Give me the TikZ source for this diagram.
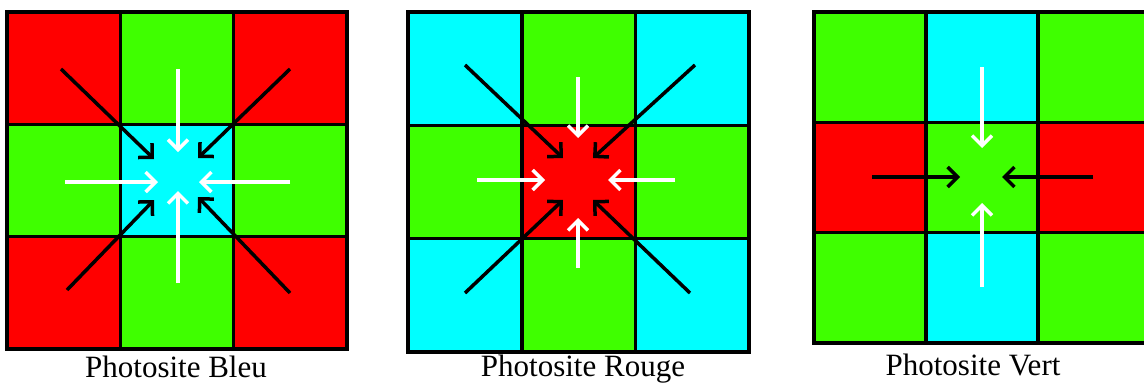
\documentclass[tikz,border=0pt]{standalone}
\usepackage{fontspec}
\setmainfont{Liberation Serif}
\usetikzlibrary{arrows.meta}
\definecolor{cellR}{HTML}{FF0000}
\definecolor{cellG}{HTML}{3FFF00}
\definecolor{cellB}{HTML}{00FFFF}

\begin{document}
\begin{tikzpicture}[x=1pt,y=-1pt,
  celledge/.style={draw=black,line width=3.6pt},
  ray/.style={-{Straight Barb[length=10pt,width=20pt]},line width=3.5pt},
  caption/.style={anchor=base,font=\fontsize{31}{36}\selectfont}]
\useasboundingbox (0,0) rectangle (1144,383);
\clip (0,0) rectangle (1144,383);
% blue photosite
\begin{scope}[shift={(7,12)},x=113.3pt,y=-112.3pt]
\foreach \r/\cs in {0/{R,G,R},1/{G,B,G},2/{R,G,R}}
  \foreach \c [count=\k from 0] in \cs {\fill[cell\c,celledge] (\k,\r) rectangle ++(1,1);}
\end{scope}
\foreach \xa/\ya/\xb/\yb in {61/69/154/159,290/69/198/158,67/290/154/200,290/293/198/197}
  {\draw[ray,black] (\xa,\ya)--(\xb,\yb);}
\foreach \xa/\ya/\xb/\yb in {178/69/178/152,65/182/158/182,290/182/199/182,178/283/178/191}
  {\draw[ray,white] (\xa,\ya)--(\xb,\yb);}
\node[caption] (capB) at (176,377) {Photosite Bleu};
% red photosite
\begin{scope}[shift={(408,12)},x=113.7pt,y=-113.3pt]
\foreach \r/\cs in {0/{B,G,B},1/{G,R,G},2/{B,G,B}}
  \foreach \c [count=\k from 0] in \cs {\fill[cell\c,celledge] (\k,\r) rectangle ++(1,1);}
\end{scope}
\foreach \xa/\ya/\xb/\yb in {465/65/563/158,695/65/593/158,465/293/563/200,690/293/593/200}
  {\draw[ray,black] (\xa,\ya)--(\xb,\yb);}
\foreach \xa/\ya/\xb/\yb in {578/77/578/138,477/180/545/180,675/180/608/180,578/268/578/218}
  {\draw[ray,white] (\xa,\ya)--(\xb,\yb);}
\node[caption] (capR) at (583,376) {Photosite Rouge};
% green photosite
\begin{scope}[shift={(814,12)},x=112pt,y=-110.3pt]
\foreach \r/\cs in {0/{G,B,G},1/{R,G,R},2/{G,B,G}}
  \foreach \c [count=\k from 0] in \cs {\fill[cell\c,celledge] (\k,\r) rectangle ++(1,1);}
\end{scope}
\foreach \xa/\ya/\xb/\yb in {982/67/982/148,982/287/982/203}
  {\draw[ray,white] (\xa,\ya)--(\xb,\yb);}
\foreach \xa/\ya/\xb/\yb in {872/177/960/177,1093/177/1002/177}
  {\draw[ray,black] (\xa,\ya)--(\xb,\yb);}
\node[caption] (capV) at (973,375) {Photosite Vert};
\end{tikzpicture}
\end{document}
